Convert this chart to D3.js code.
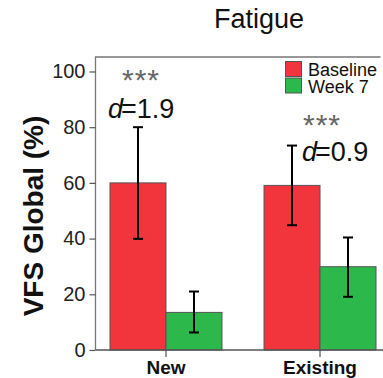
<!DOCTYPE html>
<html><head><meta charset="utf-8">
<script src="https://cdn.jsdelivr.net/npm/d3@7/dist/d3.min.js"></script>
<style>body{margin:0;background:#fff}svg{display:block}text{font-family:Arial,"Liberation Sans",sans-serif}</style>
</head><body><svg id="c" width="383" height="378"></svg>
<script>
const categories = ["New", "Existing"];
const seriesNames = ["Baseline", "Week 7"];
const baselineMean = [60, 59.1];
const baselineLow = [39.9, 44.8];
const baselineHigh = [80, 73.4];
const week7Mean = [13.5, 29.9];
const week7Low = [6.3, 19.1];
const week7High = [21, 40.4];
const yTicks = [0, 20, 40, 60, 80, 100];
const effectLabels = ["1.9", "0.9"];
const sigLabels = ["***", "***"];
const colors = ["#F2343C", "#2DB84C"];

const svg = d3.select("#c");
const pLeft = 95.5, pRight = 380.5, pTop = 57, pBottom = 350;
const y = d3.scaleLinear().domain([0, 105.2]).range([pBottom, pTop]);
const x0 = d3.scaleBand().domain(categories).range([110, 376]).paddingInner(0.273).paddingOuter(0);
const x1 = d3.scaleBand().domain(seriesNames).range([0, x0.bandwidth()]);

const series = [
  {name: seriesNames[0], mean: baselineMean, low: baselineLow, high: baselineHigh, color: colors[0]},
  {name: seriesNames[1], mean: week7Mean, low: week7Low, high: week7High, color: colors[1]}
];

// frame
svg.append("path").attr("d", `M${pLeft},${pBottom}V${pTop}H${pRight}`).attr("fill","none").attr("stroke","#777").attr("stroke-width",1.3);

// bars
series.forEach(s => {
  categories.forEach((c, ci) => {
    const bx = x0(c) + x1(s.name);
    svg.append("rect").attr("x", bx).attr("y", y(s.mean[ci])).attr("width", x1.bandwidth()).attr("height", y(0) - y(s.mean[ci]))
      .attr("fill", s.color).attr("stroke", "#555").attr("stroke-width", 1);
  });
});
// error bars
series.forEach(s => {
  categories.forEach((c, ci) => {
    const cx = x0(c) + x1(s.name) + x1.bandwidth()/2;
    const g = svg.append("g").attr("stroke", "#000").attr("stroke-width", 2);
    g.append("line").attr("x1", cx).attr("x2", cx).attr("y1", y(s.low[ci])).attr("y2", y(s.high[ci]));
    g.append("line").attr("x1", cx-5).attr("x2", cx+5).attr("y1", y(s.low[ci])).attr("y2", y(s.low[ci]));
    g.append("line").attr("x1", cx-5).attr("x2", cx+5).attr("y1", y(s.high[ci])).attr("y2", y(s.high[ci]));
  });
});

// y axis
const yAxis = svg.append("g").attr("transform", `translate(${pLeft},0)`).call(d3.axisLeft(y).tickValues(yTicks).tickSize(6).tickPadding(4));
yAxis.select(".domain").remove();
yAxis.selectAll("line").attr("stroke", "#555").attr("stroke-width", 1.2);
yAxis.selectAll("text").attr("font-size", 20).attr("fill", "#222").attr("font-family","Arial,'Liberation Sans',sans-serif");

// x axis
const xa = svg.append("g").attr("transform", `translate(0,${pBottom})`);
xa.append("line").attr("x1", pLeft).attr("x2", 383).attr("y1", 0).attr("y2", 0).attr("stroke", "#555").attr("stroke-width", 1.3);
categories.forEach(c => {
  const cx = x0(c) + x0.bandwidth()/2;
  xa.append("line").attr("x1", cx).attr("x2", cx).attr("y1", 0).attr("y2", 7).attr("stroke", "#555").attr("stroke-width", 1.2);
  xa.append("text").attr("x", cx).attr("y", 24).attr("text-anchor", "middle").attr("font-size", 19).attr("font-weight", "bold").attr("fill", "#111").text(c);
});

// title
svg.append("text").attr("x", 259).attr("y", 28).attr("text-anchor", "middle").attr("font-size", 27).attr("fill", "#111").text("Fatigue");

// y label
svg.append("text").attr("transform", "translate(43,216) rotate(-90)").attr("text-anchor", "middle").attr("font-size", 28).attr("font-weight", "bold").attr("fill", "#111").text("VFS Global (%)");

// annotations
const annPos = [{sx: 141, sy: 90, dx: 108, dy: 118}, {sx: 322, sy: 135, dx: 302, dy: 161}];
categories.forEach((c, ci) => {
  svg.append("text").attr("x", annPos[ci].sx).attr("y", annPos[ci].sy).attr("text-anchor", "middle").attr("font-size", 30).attr("fill", "#666").attr("letter-spacing", 1).text(sigLabels[ci]);
  const t = svg.append("text").attr("x", annPos[ci].dx).attr("y", annPos[ci].dy).attr("font-size", 27).attr("fill", "#111");
  t.append("tspan").attr("font-style", "italic").text("d");
  t.append("tspan").attr("dx", -2).text("=" + effectLabels[ci]);
});

// legend
const lg = svg.append("g");
seriesNames.forEach((n, i) => {
  lg.append("rect").attr("x", 285.5).attr("y", 61.5 + i*16.5).attr("width", 16).attr("height", 15).attr("fill", colors[i]).attr("stroke", "#555").attr("stroke-width", 1);
  lg.append("text").attr("x", 308).attr("y", 76 + i*16.5).attr("font-size", 18).attr("fill", "#111").text(n);
});
</script></body></html>
